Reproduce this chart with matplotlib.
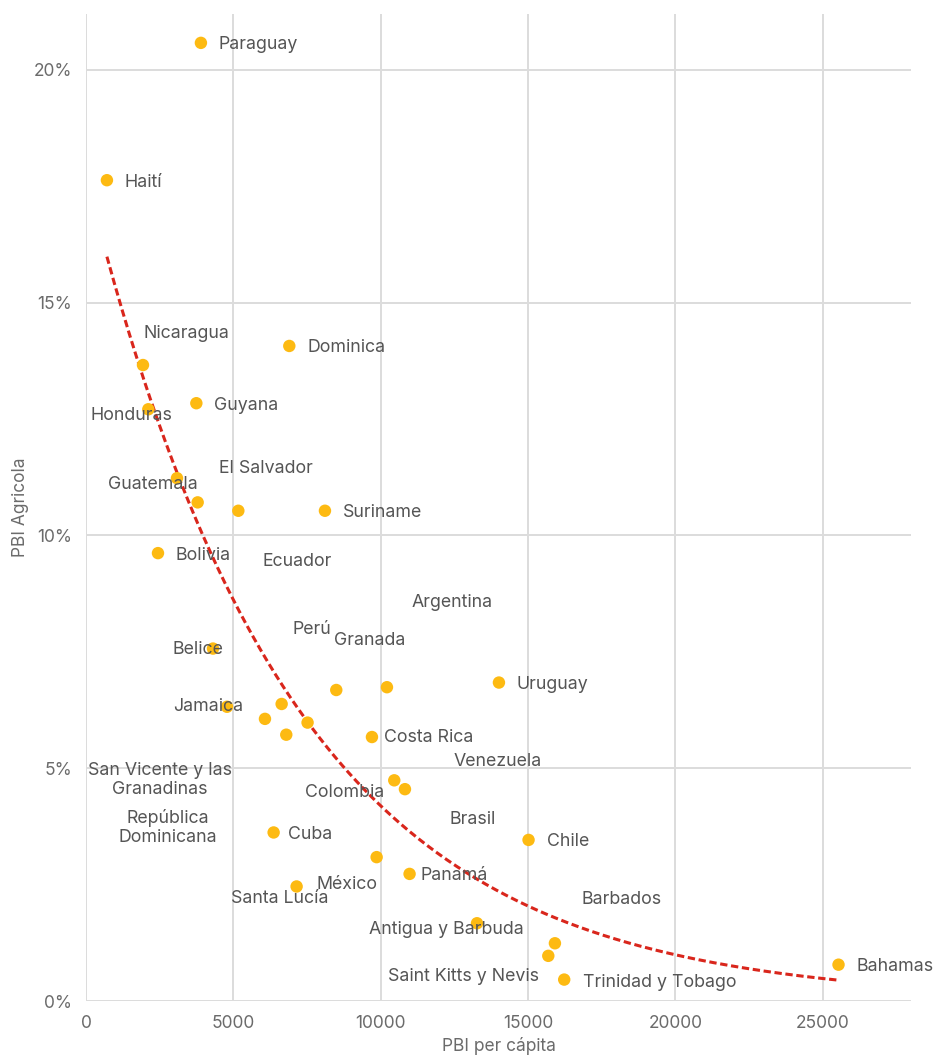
import numpy as np
import matplotlib
matplotlib.use("Agg")
import matplotlib.pyplot as plt
from matplotlib.ticker import FuncFormatter

plt.rcParams['font.family'] = ['Inter', 'DejaVu Sans']

# PBI per cápita (USD) y participación agrícola en el PBI (%)
paises = [
    "Paraguay", "Haití", "Nicaragua", "Dominica", "Honduras", "Guyana",
    "El Salvador", "Guatemala", "Suriname", "Bolivia", "Ecuador",
    "Argentina", "Perú", "Granada", "Belice", "Jamaica", "Uruguay",
    "Costa Rica", "San Vicente y las\nGranadinas", "Venezuela", "Colombia",
    "Brasil", "República\nDominicana", "Cuba", "Chile", "México", "Panamá",
    "Santa Lucía", "Barbados", "Antigua y Barbuda", "Saint Kitts y Nevis",
    "Trinidad y Tobago", "Bahamas",
]
pbi_per_capita = [
    3900, 710, 1934, 6900, 2115, 3745,
    3790, 3088, 8110, 2443, 5170,
    10214, 6640, 8494, 4310, 4785, 14015,
    9705, 6074, 10825, 7520,
    10462, 6797, 6368, 15020, 9864, 10982,
    7148, 15915, 13270, 15690,
    16230, 25540,
]
pbi_agricola = [
    20.58, 17.63, 13.66, 14.07, 12.71, 12.84,
    10.71, 11.23, 10.53, 9.62, 10.53,
    6.74, 6.38, 6.68, 7.57, 6.32, 6.84,
    5.67, 6.06, 4.55, 5.98,
    4.74, 5.72, 3.62, 3.46, 3.09, 2.73,
    2.46, 1.24, 1.67, 0.97,
    0.46, 0.78,
]

# label offsets from each dot, in pixels (dx right, dy down) and alignment
label_offsets = {
    "Paraguay": (18, 0, "left"), "Haití": (18, 0, "left"),
    "Nicaragua": (43, -34, "center"), "Dominica": (18, 0, "left"),
    "Honduras": (-17, 4, "center"), "Guyana": (18, 0, "left"),
    "El Salvador": (68, -36, "center"), "Guatemala": (-24, 4, "center"),
    "Suriname": (18, 0, "left"), "Bolivia": (18, 0, "left"),
    "Ecuador": (59, 49, "center"), "Argentina": (65, -87, "center"),
    "Perú": (30, -76, "center"), "Granada": (33, -52, "center"),
    "Belice": (-15, -1, "center"), "Jamaica": (-19, -2, "center"),
    "Uruguay": (18, 0, "left"), "Costa Rica": (12, -2, "left"),
    "San Vicente y las\nGranadinas": (-105, 59, "center"),
    "Venezuela": (93, -30, "center"), "Colombia": (37, 68, "center"),
    "Brasil": (78, 37, "center"), "República\nDominicana": (-118, 91, "center"),
    "Cuba": (14, 0, "left"), "Chile": (18, 0, "left"),
    "México": (-30, 25, "center"), "Panamá": (11, 0, "left"),
    "Santa Lucía": (-17, 10, "center"), "Barbados": (67, -46, "center"),
    "Antigua y Barbuda": (-31, 4, "center"),
    "Saint Kitts y Nevis": (-85, 19, "center"),
    "Trinidad y Tobago": (19, 1, "left"), "Bahamas": (18, 0, "left"),
}

x = np.array(pbi_per_capita, dtype=float)
y = np.array(pbi_agricola, dtype=float)

fig = plt.figure(figsize=(9.36, 10.55), dpi=100)
ax = fig.add_axes([86 / 936, 54 / 1055, 825 / 936, 987 / 1055])

grid_color = "#dcdcdc"
ax.set_xlim(0, 28000)
ax.set_ylim(0, 21.2)
ax.set_xticks([0, 5000, 10000, 15000, 20000, 25000])
ax.set_yticks([0, 5, 10, 15, 20])
ax.yaxis.set_major_formatter(FuncFormatter(lambda v, _: f"{v:.0f}%"))
ax.grid(True, color=grid_color, linewidth=1.4)
ax.set_axisbelow(True)
for s in ax.spines.values():
    s.set_visible(False)
ax.tick_params(length=0, labelsize=12.5, labelcolor="#6b6b6b", pad=10)

# exponential trend fitted on the data
b, loga = np.polyfit(x, np.log(y), 1)
xs = np.linspace(x.min(), x.max(), 300)
ax.plot(xs, np.exp(loga + b * xs), color="#d9261c", linewidth=2.2,
        linestyle=(0, (2.4, 1.2)), zorder=2)

ax.scatter(x, y, s=80, color="#fdba12", edgecolors="none", zorder=3)

for name, xi, yi in zip(paises, x, y):
    dx, dy, ha = label_offsets[name]
    ax.annotate(name, (xi, yi), xytext=(dx, -dy - 2), textcoords="offset pixels",
                ha=ha, va="center", fontsize=12.8, color="#555555",
                linespacing=1.2, zorder=4)

ax.set_xlabel("PBI per cápita", fontsize=12.5, color="#6b6b6b", labelpad=4)
ax.set_ylabel("PBI Agricola", fontsize=12.5, color="#6b6b6b", labelpad=3)

fig.savefig("out.png", dpi=100)
